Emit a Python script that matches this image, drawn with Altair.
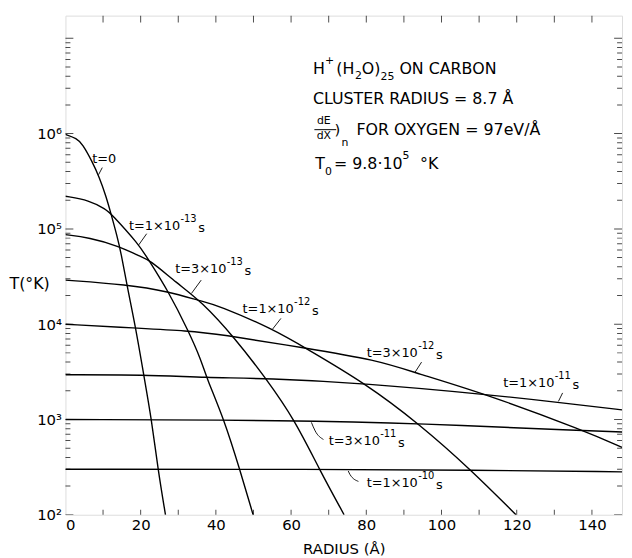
import altair as alt
import pandas as pd

FONT = "DejaVu Sans"

# ---------------- curve data: radius (Å), temperature (°K)
r_t0 = [0, 3, 4.5, 7.1, 9, 10.8, 12.1, 13.7, 14.8, 16.4, 18.7, 20.8, 22.9, 24.6, 26.6]
T_t0 = [9.8e5, 8.9e5, 7.8e5, 5.1e5, 3.5e5, 2.2e5, 1.45e5, 8.5e4, 5.6e4, 2.5e4, 9.1e3, 2.95e3, 1.0e3, 300, 100]

r_1e13 = [0, 6.3, 10.8, 12.1, 19.5, 22, 27.4, 32.7, 36.1, 37.5, 42.2, 46.4, 49.9]
T_1e13 = [2.2e5, 2.0e5, 1.6e5, 1.45e5, 6.9e4, 4.8e4, 2.2e4, 8.5e3, 4.2e3, 2.75e3, 1.0e3, 295, 100]

r_3e13 = [0, 6.3, 14.2, 19.5, 22.2, 29.6, 36.1, 45, 53.3, 60.9, 67.5, 74.1]
T_3e13 = [8.7e4, 8.1e4, 6.6e4, 5.2e4, 4.8e4, 2.7e4, 1.74e4, 7.2e3, 2.7e3, 1.0e3, 300, 100]

r_1e12 = [0, 16.4, 27.4, 36.1, 40.6, 55.1, 63.9, 79.7, 93.9, 107.9, 119.8]
T_1e12 = [2.9e4, 2.6e4, 2.2e4, 1.74e4, 1.58e4, 8.9e3, 5.6e3, 2.4e3, 910, 295, 100]

r_3e12 = [0, 18.7, 32.7, 40.6, 63.9, 82.8, 92.9, 112.7, 138, 148]
T_3e12 = [1.0e4, 9.1e3, 8.5e3, 7.9e3, 5.6e3, 4.2e3, 3.1e3, 1.8e3, 760, 510]

r_1e11 = [0, 20.8, 37.5, 53.6, 79.7, 112.7, 131.1, 148]
T_1e11 = [2950, 2950, 2750, 2700, 2400, 1820, 1510, 1260]

r_3e11 = [0, 60.9, 93.9, 138, 148]
T_3e11 = [1000, 980, 910, 760, 740]

r_1e10 = [0, 67.5, 107.9, 148]
T_1e10 = [300, 300, 295, 282]

curve_names = ["t=0", "1e-13", "3e-13", "1e-12", "3e-12", "1e-11", "3e-11", "1e-10"]
curve_r = [r_t0, r_1e13, r_3e13, r_1e12, r_3e12, r_1e11, r_3e11, r_1e10]
curve_T = [T_t0, T_1e13, T_3e13, T_1e12, T_3e12, T_1e11, T_3e11, T_1e10]

# ---------------- curve labels: main part, superscript exponent, unit
label_main = ["t=0", "t=1×10", "t=3×10", "t=1×10", "t=3×10", "t=1×10", "t=3×10", "t=1×10"]
label_exp = ["", "-13", "-13", "-12", "-12", "-11", "-11", "-10"]
label_unit = ["", "s", "s", "s", "s", "s", "s", "s"]
label_r = [7.1, 16.9, 29.2, 47.1, 80.1, 116.4, 70.0, 80.1]
label_T = [5.4e5, 1.07e5, 3.8e4, 1.45e4, 5.0e3, 2.4e3, 590, 214]

# leader lines (label -> curve)
leader_id = [0, 0, 1, 1, 2, 2, 3, 3, 4, 4, 5, 5, 6, 6, 6, 7, 7, 7]
leader_r = [9.8, 8.8, 21.6, 19.5, 36.1, 33.5, 57.3, 55.1, 94.7, 92.9, 132.2, 131.1,
            68.6, 66.4, 65.4, 77.9, 75.7, 75.2]
leader_T = [4.4e5, 3.7e5, 8.9e4, 6.8e4, 2.9e4, 2.1e4, 1.15e4, 8.9e3, 4.0e3, 3.1e3, 1.9e3, 1.55e3,
            617, 759, 933, 224, 263, 288]

# ---------------- info block, as pieces of text (with sub/superscripts)
info_text = ["H", "+", "(H", "2", "O)", "25", "ON  CARBON",
             "CLUSTER  RADIUS = 8.7 Å",
             "dE", "dX", ")", "n", "FOR  OXYGEN = 97eV/Å",
             "T", "0", "= 9.8·10", "5", "°K"]
info_r = [65.8, 69.0, 72.0, 77.0, 78.8, 83.8, 88.8,
          65.8,
          68.7, 68.7, 72.3, 74.3, 77.4,
          66.4, 69.0, 71.4, 89.6, 94.3]
info_T = [4.75e6, 5.75e6, 4.75e6, 4.02e6, 4.75e6, 3.93e6, 4.75e6,
          2.32e6,
          1.34e6, 9.33e5, 1.10e6, 8.0e5, 1.10e6,
          4.78e5, 3.94e5, 4.78e5, 5.78e5, 4.78e5]
info_size = [16, 11, 16, 11, 16, 11, 16,
             16,
             11, 11, 15, 11, 16,
             16, 11, 16, 11, 16]
info_align = ["left", "left", "left", "left", "left", "left", "left",
              "left",
              "center", "center", "center", "center", "left",
              "left", "left", "left", "left", "left"]
frac_bar_r = [66.2]
frac_bar_r2 = [72.0]
frac_bar_T = [1.10e6]

# ---------------- axes
x_label_values = [0, 20, 40, 60, 80, 100, 120, 140]
x_tick_values = [10, 20, 30, 40, 50, 60, 70, 80, 90, 100, 110, 120, 130, 140]
y_label_values = [100, 1000, 10000, 100000, 1000000]
y_label_text = ["10²", "10³", "10⁴", "10⁵", "10⁶"]
y_major_ticks = [100, 1000, 10000, 100000, 1000000, 10000000]
minor_mult = [2, 3, 4, 5, 6, 7, 8, 9]
y_minor_ticks = [m * d for d in [100, 1000, 10000, 100000, 1000000] for m in minor_mult]

x_domain = [0, 148]
y_domain = [100, 1.73e7]

W, H = 562, 504

label_expr = "".join(
    f"datum.value == {v} ? '{t}' : " for v, t in zip(y_label_values, y_label_text)
) + "''"

xs = alt.Scale(domain=x_domain, nice=False, zero=False)
ys = alt.Scale(type="log", domain=y_domain, nice=False)

x_axis = alt.Axis(values=x_label_values, format="d", ticks=False, domain=False, grid=False,
                  labelPadding=3, labelFontSize=15, labelFont=FONT, labelColor="black",
                  title="RADIUS (Å)", titleFontSize=15, titleFont=FONT, titleFontWeight="normal",
                  titleColor="black", titlePadding=9)
y_axis = alt.Axis(values=y_label_values, labelExpr=label_expr, ticks=False, domain=False,
                  grid=False, labelPadding=4, labelFontSize=15, labelFont=FONT,
                  labelColor="black", title="T(°K)", titleAngle=0, titleAlign="left",
                  titleBaseline="middle", titleX=-57, titleY=271, titleFontSize=16,
                  titleFont=FONT, titleFontWeight="normal", titleColor="black")


def X(field="x"):
    return alt.X(f"{field}:Q", scale=xs, axis=x_axis)


def Y(field="T"):
    return alt.Y(f"{field}:Q", scale=ys, axis=y_axis)


rows = []
for name, rr, tt in zip(curve_names, curve_r, curve_T):
    for a, b in zip(rr, tt):
        rows.append({"curve": name, "x": a, "T": b})
curves_df = pd.DataFrame(rows)

curves = alt.Chart(curves_df).mark_line(
    interpolate="basis", color="black", strokeWidth=1.4, clip=True
).encode(x=X(), y=Y(), detail="curve:N")

lab_df = pd.DataFrame({"x": label_r, "T": label_T, "main": label_main,
                       "exp": label_exp, "unit": label_unit})
lab_main = alt.Chart(lab_df).mark_text(
    align="left", baseline="middle", font=FONT, fontSize=13, color="black"
).encode(x=X(), y=Y(), text="main:N")
lab_exp = alt.Chart(lab_df).mark_text(
    align="left", baseline="middle", font=FONT, fontSize=10, color="black", dx=52, dy=-7
).encode(x=X(), y=Y(), text="exp:N")
lab_unit = alt.Chart(lab_df).mark_text(
    align="left", baseline="middle", font=FONT, fontSize=13, color="black", dx=70, dy=2
).encode(x=X(), y=Y(), text="unit:N")

leaders = alt.Chart(pd.DataFrame({"x": leader_r, "T": leader_T, "id": leader_id})).mark_line(
    color="black", strokeWidth=0.9, interpolate="monotone"
).encode(x=X(), y=Y(), detail="id:N", order=alt.Order("x:Q"))

info_df = pd.DataFrame({"x": info_r, "T": info_T, "txt": info_text, "fs": info_size,
                        "al": info_align})
info_left = alt.Chart(info_df[info_df["al"] == "left"]).mark_text(
    align="left", baseline="middle", font=FONT, color="black"
).encode(x=X(), y=Y(), text="txt:N", size=alt.Size("fs:Q", scale=None, legend=None))
info_center = alt.Chart(info_df[info_df["al"] == "center"]).mark_text(
    align="center", baseline="middle", font=FONT, color="black"
).encode(x=X(), y=Y(), text="txt:N", size=alt.Size("fs:Q", scale=None, legend=None))

frac_bar = alt.Chart(pd.DataFrame({"x": frac_bar_r, "x2": frac_bar_r2, "T": frac_bar_T})).mark_rule(
    color="black", strokeWidth=1
).encode(x=X(), x2="x2:Q", y=Y())

ymaj = pd.DataFrame({"T": y_major_ticks})
ymin = pd.DataFrame({"T": y_minor_ticks})
xt = pd.DataFrame({"x": x_tick_values})

tick_layers = []
for xpos in [0, W]:
    tick_layers.append(alt.Chart(ymaj).mark_tick(orient="horizontal", size=16, thickness=1,
                                                 color="black", clip=True)
                       .encode(y=Y(), x=alt.value(xpos)))
    tick_layers.append(alt.Chart(ymin).mark_tick(orient="horizontal", size=10, thickness=1,
                                                 color="black", clip=True)
                       .encode(y=Y(), x=alt.value(xpos)))
tick_layers.append(alt.Chart(xt).mark_tick(orient="vertical", size=14, thickness=1,
                                           color="black", clip=True)
                   .encode(x=X(), y=alt.value(0)))
tick_layers.append(alt.Chart(xt).mark_tick(orient="vertical", size=10, thickness=1,
                                           color="black", clip=True)
                   .encode(x=X(), y=alt.value(H)))

chart = alt.layer(curves, lab_main, lab_exp, lab_unit, leaders, info_left, info_center,
                  frac_bar, *tick_layers).properties(
    width=W, height=H,
    autosize=alt.AutoSizeParams(type="none"),
    padding={"left": 58, "top": 5, "right": 2, "bottom": 46},
).configure_view(stroke="black", strokeWidth=1.2).configure(background="white")

chart.save("out.html", embed_options={"renderer": "svg", "actions": False})
